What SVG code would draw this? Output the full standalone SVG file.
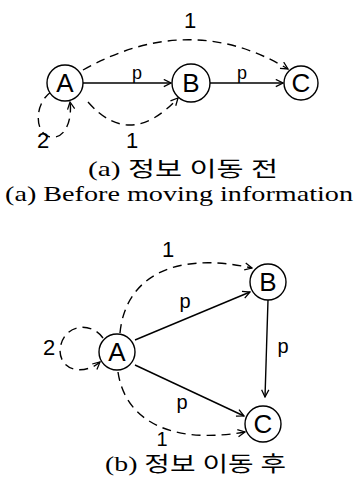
<svg xmlns="http://www.w3.org/2000/svg" width="355" height="484" viewBox="0 0 355 484">
<defs>
<style>
.node circle{fill:#fff;stroke:#000;stroke-width:1.4}
.node text{font-family:"Liberation Sans",Arial,sans-serif;font-size:26px;text-anchor:middle;fill:#000}
.solid{fill:none;stroke:#000;stroke-width:1.4;marker-end:url(#arr)}
.dash{fill:none;stroke:#000;stroke-width:1.4;stroke-dasharray:9 6;marker-end:url(#arr)}
.lbl{font-family:"Liberation Sans",Arial,sans-serif;fill:#000;text-anchor:middle}
.cap{font-family:"Liberation Serif","Noto Sans CJK KR",serif;fill:#000}
</style>
<marker id="arr" viewBox="0 0 10 10" refX="9" refY="5" markerWidth="9" markerHeight="9" markerUnits="userSpaceOnUse" orient="auto">
<path d="M1,1 L9,5 L1,9" fill="none" stroke="#000" stroke-width="1.4"/>
</marker>
</defs>
<rect width="355" height="484" fill="#fff"/>

<g id="connectors-a">
<path class="solid" d="M83,83 L171,83"/>
<path class="solid" d="M210,83 L283,83"/>
<path class="dash" d="M83,70 Q190,10 288,69"/>
<path class="dash" d="M88,102 Q130,150 178,98"/>
<path class="dash" d="M51,92 C32,105 35,140 55,137 C68,135 72,115 70,102"/>
</g>
<g id="labels-a">
<text class="lbl" x="137" y="79" font-size="18">p</text>
<text class="lbl" x="242" y="79" font-size="18">p</text>
<text class="lbl" x="190" y="28" font-size="22">1</text>
<text class="lbl" x="132" y="148" font-size="22">1</text>
<text class="lbl" x="43" y="148" font-size="22">2</text>
</g>
<g id="a-A" class="node"><circle cx="65" cy="83" r="18"/><text x="65" y="92">A</text></g>
<g id="a-B" class="node"><circle cx="191" cy="83" r="19"/><text x="191" y="92">B</text></g>
<g id="a-C" class="node"><circle cx="301" cy="83" r="17"/><text x="301" y="92">C</text></g>

<text class="cap" x="88" y="176" font-size="21" textLength="190" lengthAdjust="spacingAndGlyphs">(a) 정보 이동 전</text>
<text class="cap" x="5" y="201" font-size="21" textLength="348" lengthAdjust="spacingAndGlyphs">(a)  Before moving information</text>

<g id="connectors-b">
<path class="solid" d="M135,340 L250,292"/>
<path class="solid" d="M135,365 L244,416"/>
<path class="solid" d="M268,300 L265,397"/>
<path class="dash" d="M120,333 C125,280 170,250 252,268"/>
<path class="dash" d="M118,372 C125,420 170,445 245,432"/>
<path class="dash" d="M103,338 C90,320 62,325 60,350 C60,372 85,375 100,362"/>
</g>
<g id="labels-b">
<text class="lbl" x="185" y="308" font-size="20">p</text>
<text class="lbl" x="283" y="353" font-size="20">p</text>
<text class="lbl" x="182" y="409" font-size="20">p</text>
<text class="lbl" x="168" y="257" font-size="22">1</text>
<text class="lbl" x="162" y="446" font-size="20">1</text>
<text class="lbl" x="49" y="355" font-size="22">2</text>
</g>
<g id="b-A" class="node"><circle cx="117" cy="352" r="18"/><text x="117" y="361">A</text></g>
<g id="b-B" class="node"><circle cx="268" cy="282" r="18"/><text x="268" y="291">B</text></g>
<g id="b-C" class="node"><circle cx="263" cy="424" r="18"/><text x="263" y="433">C</text></g>

<text class="cap" x="105" y="471" font-size="21" textLength="181" lengthAdjust="spacingAndGlyphs">(b) 정보 이동 후</text>
</svg>
